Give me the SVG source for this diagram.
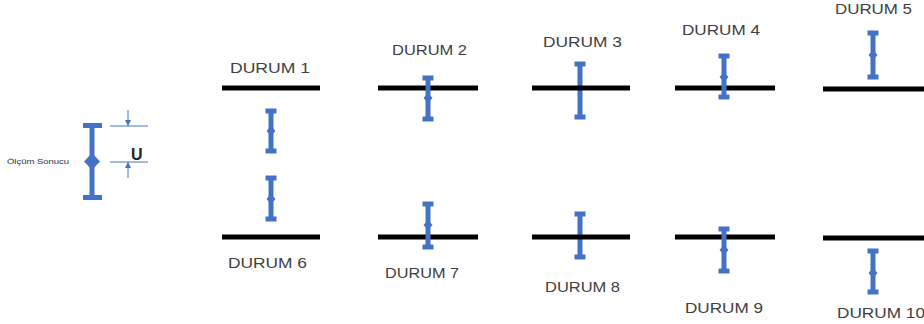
<svg xmlns="http://www.w3.org/2000/svg" width="924" height="324" viewBox="0 0 924 324">
<style>
.bar{stroke:#4472C4;stroke-width:5;fill:none}
.bigbar{stroke:#4472C4;stroke-width:5;fill:none}
.cap{fill:#4472C4}
.base{stroke:#000;stroke-width:5}
.lbl{font-family:"Liberation Sans",Arial,sans-serif;font-size:15px;fill:#404040;text-anchor:start}
.dim{stroke:#4472C4;stroke-width:1;fill:none}
</style>
<defs>
<marker id="ah" viewBox="0 0 6 6" refX="6" refY="3" markerWidth="6" markerHeight="6" orient="auto">
<path d="M0,0 L6,3 L0,6 z" fill="#4472C4"/>
</marker>
</defs>
<rect width="924" height="324" fill="#fff"/>

<g id="legend">
<line class="bigbar" x1="92" y1="126" x2="92" y2="197"/>
<rect class="cap" x="83" y="123" width="19" height="5"/>
<rect class="cap" x="83" y="195" width="19" height="5"/>
<path class="cap" d="M92,153 L100,161.5 L92,170 L84,161.5 z"/>
<text x="7" y="164" style="font-family:'Liberation Sans',Arial,sans-serif;font-size:7px;fill:#333" textLength="62" lengthAdjust="spacingAndGlyphs">Ölçüm Sonucu</text>
<text x="131" y="160" style="font-family:'Liberation Sans',Arial,sans-serif;font-size:16px;font-weight:bold;fill:#222">U</text>
</g>

<g id="connectors">
<line class="dim" x1="110" y1="126" x2="148" y2="126"/>
<line class="dim" x1="110" y1="162" x2="148" y2="162"/>
<line class="dim" x1="128" y1="110" x2="128" y2="126" marker-end="url(#ah)"/>
<line class="dim" x1="128" y1="178" x2="128" y2="162" marker-end="url(#ah)"/>
</g>

<g id="durum1">
<line class="base" x1="222" y1="88" x2="320" y2="88"/>
<line class="bar" x1="271" y1="111" x2="271" y2="151"/>
<rect class="cap" x="265.5" y="108.5" width="11" height="5"/>
<rect class="cap" x="265.5" y="148.5" width="11" height="5"/>
<path class="cap" d="M271,126 L275.5,131 L271,136 L266.5,131 z"/>
<text class="lbl" x="230" y="73" textLength="80" lengthAdjust="spacingAndGlyphs">DURUM 1</text>
</g>

<g id="durum6">
<line class="base" x1="222" y1="237" x2="320" y2="237"/>
<line class="bar" x1="271" y1="178" x2="271" y2="219"/>
<rect class="cap" x="265.5" y="175.5" width="11" height="5"/>
<rect class="cap" x="265.5" y="216.5" width="11" height="5"/>
<path class="cap" d="M271,194 L275.5,199 L271,204 L266.5,199 z"/>
<text class="lbl" x="228" y="268" textLength="79" lengthAdjust="spacingAndGlyphs">DURUM 6</text>
</g>

<g id="durum2">
<line class="base" x1="378" y1="88" x2="478" y2="88"/>
<line class="bar" x1="428" y1="78" x2="428" y2="119"/>
<rect class="cap" x="422.5" y="75.5" width="11" height="5"/>
<rect class="cap" x="422.5" y="116.5" width="11" height="5"/>
<path class="cap" d="M428,93 L432.5,98 L428,103 L423.5,98 z"/>
<text class="lbl" x="392" y="55" textLength="75" lengthAdjust="spacingAndGlyphs">DURUM 2</text>
</g>

<g id="durum7">
<line class="base" x1="378" y1="237" x2="478" y2="237"/>
<line class="bar" x1="428" y1="204" x2="428" y2="247"/>
<rect class="cap" x="422.5" y="201.5" width="11" height="5"/>
<rect class="cap" x="422.5" y="244.5" width="11" height="5"/>
<path class="cap" d="M428,220 L432.5,225 L428,230 L423.5,225 z"/>
<text class="lbl" x="385" y="278" textLength="74" lengthAdjust="spacingAndGlyphs">DURUM 7</text>
</g>

<g id="durum3">
<line class="bar" x1="580" y1="64" x2="580" y2="117"/>
<rect class="cap" x="574.5" y="61.5" width="11" height="5"/>
<rect class="cap" x="574.5" y="114.5" width="11" height="5"/>
<line class="base" x1="532" y1="88" x2="630" y2="88"/>
<text class="lbl" x="543" y="47" textLength="79" lengthAdjust="spacingAndGlyphs">DURUM 3</text>
</g>

<g id="durum8">
<line class="bar" x1="580" y1="214" x2="580" y2="257"/>
<rect class="cap" x="574.5" y="211.5" width="11" height="5"/>
<rect class="cap" x="574.5" y="254.5" width="11" height="5"/>
<line class="base" x1="532" y1="237" x2="630" y2="237"/>
<text class="lbl" x="545" y="292" textLength="75" lengthAdjust="spacingAndGlyphs">DURUM 8</text>
</g>

<g id="durum4">
<line class="base" x1="675" y1="88" x2="775" y2="88"/>
<line class="bar" x1="724" y1="56" x2="724" y2="97"/>
<rect class="cap" x="718.5" y="53.5" width="11" height="5"/>
<rect class="cap" x="718.5" y="94.5" width="11" height="5"/>
<path class="cap" d="M724,72 L728.5,77 L724,82 L719.5,77 z"/>
<text class="lbl" x="682" y="35" textLength="78" lengthAdjust="spacingAndGlyphs">DURUM 4</text>
</g>

<g id="durum9">
<line class="base" x1="675" y1="237" x2="775" y2="237"/>
<line class="bar" x1="724" y1="229" x2="724" y2="271"/>
<rect class="cap" x="718.5" y="226.5" width="11" height="5"/>
<rect class="cap" x="718.5" y="268.5" width="11" height="5"/>
<path class="cap" d="M724,245 L728.5,250 L724,255 L719.5,250 z"/>
<text class="lbl" x="685" y="313" textLength="78" lengthAdjust="spacingAndGlyphs">DURUM 9</text>
</g>

<g id="durum5">
<line class="base" x1="823" y1="89" x2="924" y2="89"/>
<line class="bar" x1="873" y1="33" x2="873" y2="77"/>
<rect class="cap" x="867.5" y="30.5" width="11" height="5"/>
<rect class="cap" x="867.5" y="74.5" width="11" height="5"/>
<path class="cap" d="M873,50 L877.5,55 L873,60 L868.5,55 z"/>
<text class="lbl" x="835" y="14" textLength="77" lengthAdjust="spacingAndGlyphs">DURUM 5</text>
</g>

<g id="durum10">
<line class="base" x1="823" y1="238" x2="924" y2="238"/>
<line class="bar" x1="873" y1="251" x2="873" y2="292"/>
<rect class="cap" x="867.5" y="248.5" width="11" height="5"/>
<rect class="cap" x="867.5" y="289.5" width="11" height="5"/>
<path class="cap" d="M873,268 L877.5,273 L873,278 L868.5,273 z"/>
<text class="lbl" x="837" y="318" textLength="88" lengthAdjust="spacingAndGlyphs">DURUM 10</text>
</g>
</svg>
